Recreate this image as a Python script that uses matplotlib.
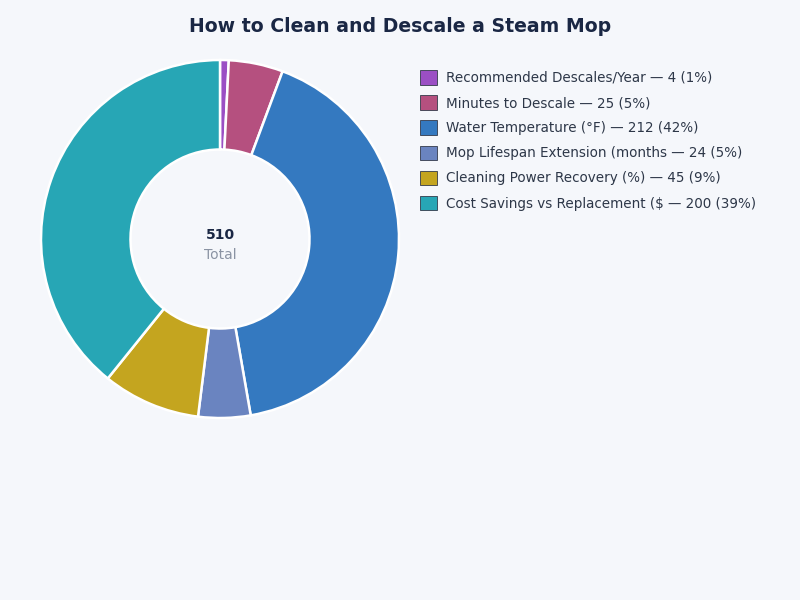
import matplotlib.pyplot as plt
from matplotlib.patches import Patch

labels = ["Recommended Descales/Year", "Minutes to Descale", "Water Temperature (°F)",
          "Mop Lifespan Extension (months", "Cleaning Power Recovery (%)",
          "Cost Savings vs Replacement ($"]
values = [4, 25, 212, 24, 45, 200]
colors = ["#9b4fc4", "#b5507f", "#3479c0", "#6a84c0", "#c4a51f", "#27a6b5"]

bg = "#f5f7fb"
fig = plt.figure(figsize=(8, 6), dpi=100, facecolor=bg)
fig.text(0.5, 1 - 27 / 600, "How to Clean and Descale a Steam Mop", ha="center", va="center",
         fontsize=13.6, fontweight="bold", color="#1a2744")

# donut axes: center (220, 239) px, radius 179 px
r = 179
ax = fig.add_axes([(220 - r) / 800, (600 - 239 - r) / 600, 2 * r / 800, 2 * r / 600])
ax.set_facecolor(bg)
ax.pie(values, colors=colors, startangle=90, counterclock=False, radius=1,
       wedgeprops=dict(width=0.5, edgecolor="white", linewidth=1.8))
ax.set_aspect("equal")
ax.set_xlim(-1, 1)
ax.set_ylim(-1, 1)
ax.axis("off")

total = sum(values)
ax.text(0, 0.02, str(total), ha="center", va="center", fontsize=10, fontweight="bold", color="#1a2744")
ax.text(0, -0.09, "Total", ha="center", va="center", fontsize=10, color="#8a93a3")

handles = [Patch(facecolor=c, edgecolor="#333a4a", linewidth=0.6) for c in colors]
leg_labels = [f"{l} — {v} ({v / total * 100:.0f}%)" for l, v in zip(labels, values)]
leg = fig.legend(handles, leg_labels, loc="upper left", bbox_to_anchor=(408 / 800, 1 - 58 / 600),
                 frameon=False, fontsize=9.75, handlelength=1.25, handleheight=1.25,
                 handletextpad=0.65, labelspacing=0.77, labelcolor="#2d3748")

fig.savefig("out.png", dpi=100, facecolor=bg)
